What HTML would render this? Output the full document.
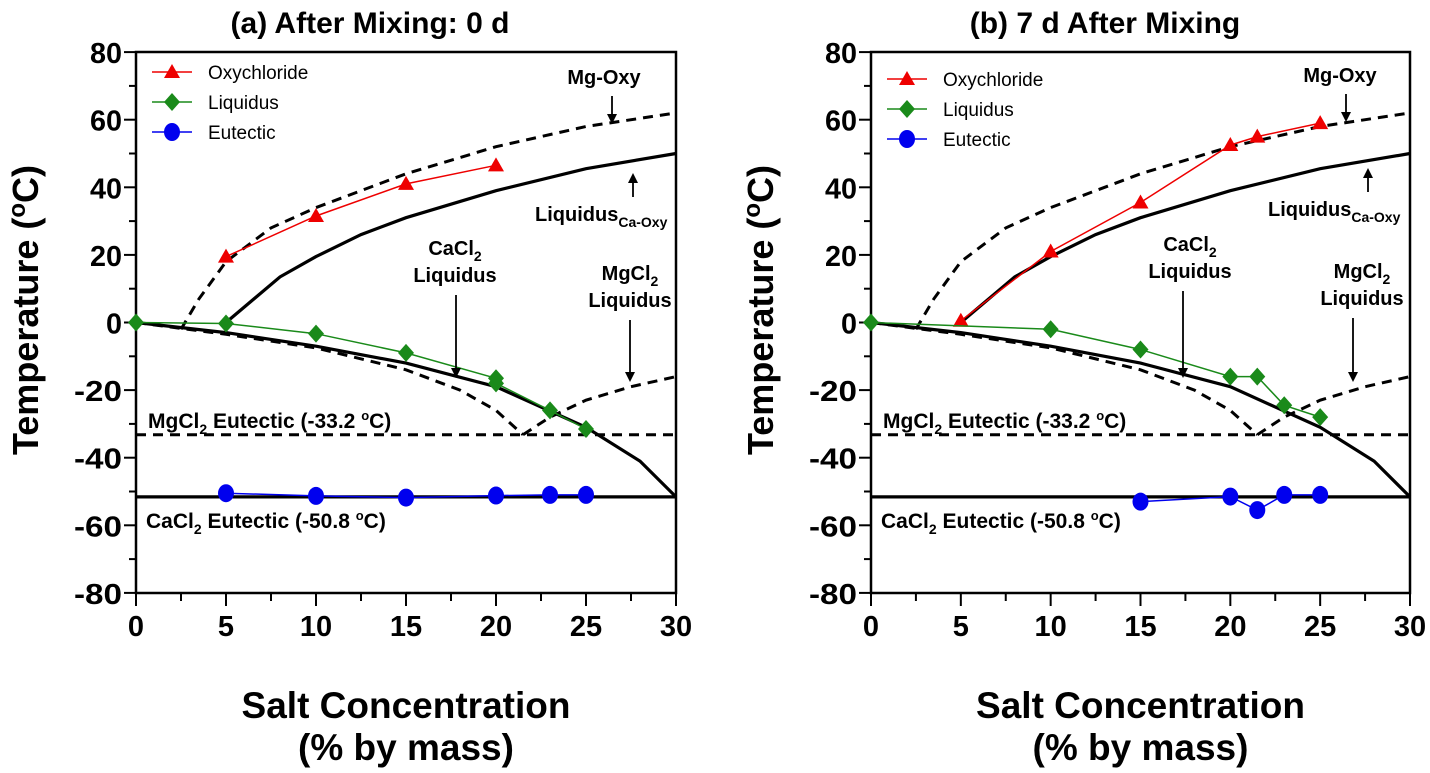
<!DOCTYPE html>
<html><head><meta charset="utf-8"><style>
body{margin:0;background:#fff;}
svg text{font-family:"Liberation Sans",Arial,sans-serif;}
</style></head><body>
<svg id="s" width="1430" height="768" xmlns="http://www.w3.org/2000/svg"></svg>
<script>
const S=document.getElementById('s');let h='';
function panel(o){
 const X=v=>o.x0+v*(o.x1-o.x0)/30, Y=v=>322.5-3.38*v;
 const pl=(pts,st)=>`<polyline fill="none" points="${pts.map(p=>X(p[0]).toFixed(1)+','+Y(p[1]).toFixed(1)).join(' ')}" ${st}/>`;
 h+=`<rect x="${o.x0}" y="52" width="${o.x1-o.x0}" height="541" fill="none" stroke="#000" stroke-width="2.5"/>`;
 for(let v=-80;v<=80;v+=10){const y=Y(v);h+=`<line x1="${o.x0-(v%20==0?12:7)}" x2="${o.x0}" y1="${y}" y2="${y}" stroke="#000" stroke-width="2"/>`;
  if(v%20==0)h+=`<text x="${o.x0-14}" y="${y+11}" font-size="29" font-weight="bold" text-anchor="end" textLength="${String(v).length*16}" lengthAdjust="spacingAndGlyphs">${v}</text>`;}
 for(let v=0;v<=30;v+=2.5){const x=X(v);h+=`<line x1="${x}" x2="${x}" y1="593" y2="${593+(v%5==0?13:8)}" stroke="#000" stroke-width="2"/>`;
  if(v%5==0)h+=`<text x="${x}" y="636" font-size="29" font-weight="bold" text-anchor="middle">${v}</text>`;}
 const xc=(o.x0+o.x1)/2;
 h+=`<text x="${o.tx}" y="33" font-size="30" font-weight="bold" text-anchor="middle">${o.title}</text>`;
 h+=`<text x="${xc}" y="718" font-size="37" font-weight="bold" text-anchor="middle">Salt Concentration</text>`;
 h+=`<text x="${xc}" y="760" font-size="37" font-weight="bold" text-anchor="middle">(% by mass)</text>`;
 h+=`<text transform="translate(${o.x0-98},310) rotate(-90)" font-size="36" font-weight="bold" text-anchor="middle">Temperature (<tspan font-size="24" dy="-13">o</tspan><tspan dy="13">C)</tspan></text>`;
 const D='stroke="#000" stroke-width="3" stroke-dasharray="10,7"', L='stroke="#000" stroke-width="3.2"';
 h+=pl([[2.5,-2],[3.5,7],[5,18],[7.5,28],[10,34],[15,44],[20,52],[25,58],[30,62]],D);
 h+=pl([[5,0],[8,13.5],[10,19.5],[12.5,26],[15,31],[20,39],[25,45.5],[30,50]],L);
 h+=pl([[0,0],[5,-3.5],[10,-7.5],[15,-14],[18,-20],[20,-26],[21.5,-33.2]],D);
 h+=pl([[21.5,-33.2],[23,-28],[25,-23],[27.5,-19],[30,-16]],D);
 h+=pl([[0,-33.2],[30,-33.2]],D);
 h+=pl([[0,0],[5,-3],[10,-7],[15,-12],[20,-19],[25,-31],[28,-41],[30,-51.6]],L);
 h+=pl([[0,-51.6],[30,-51.6]],L);
 const tri=(x,y)=>`<polygon points="${x},${y-8} ${x-8},${y+6} ${x+8},${y+6}" fill="#e00"/>`;
 const dia=(x,y)=>`<polygon points="${x},${y-9} ${x+8},${y} ${x},${y+9} ${x-8},${y}" fill="#1a8a1a"/>`;
 const cir=(x,y)=>`<ellipse cx="${x}" cy="${y}" rx="8" ry="9" fill="#0000ee"/>`;
 const ser=(d,c,m)=>{h+=pl(d,`stroke="${c}" stroke-width="1.5"`);d.forEach(p=>h+=m(X(p[0]),Y(p[1])));};
 ser(o.oxy,'#e00',tri);ser(o.liq,'#1a8a1a',dia);ser(o.eut,'#0000ee',cir);
 const lx=o.lx,ly=o.ly;
 [['Oxychloride','#e00',tri],['Liquidus','#1a8a1a',dia],['Eutectic','#0000ee',cir]].forEach((e,i)=>{const y=ly+i*30;
  h+=`<line x1="${lx}" x2="${lx+40}" y1="${y}" y2="${y}" stroke="${e[1]}" stroke-width="1.5"/>`+e[2](lx+20,y)+`<text x="${lx+56}" y="${y+7}" font-size="19">${e[0]}</text>`;});
 const a=o.an, arr=(x,y1,y2)=>{const d=y2>y1?1:-1;h+=`<line x1="${x}" x2="${x}" y1="${y1}" y2="${y2-d*8}" stroke="#000" stroke-width="1.8"/><polygon points="${x-5},${y2-d*10} ${x+5},${y2-d*10} ${x},${y2}" fill="#000"/>`;};
 const B=(x,y,t,anc)=>h+=`<text x="${x}" y="${y}" font-size="20" font-weight="bold" text-anchor="${anc||'start'}">${t}</text>`;
 B(a.mg[0],a.mg[1],'Mg-Oxy','middle');arr(a.mg[2],a.mg[1]+12,a.mg[1]+40);
 B(a.lc[0],a.lc[1],'Liquidus<tspan font-size="14" dy="6">Ca-Oxy</tspan>');arr(a.lc[2],a.lc[1]-24,a.lc[1]-48);
 B(a.cl[0],a.cl[1],'CaCl<tspan font-size="14" dy="6">2</tspan>','middle');B(a.cl[0],a.cl[1]+27,'Liquidus','middle');arr(a.cl[2],a.cl[1]+40,a.cl[3]);
 B(a.ml[0],a.ml[1],'MgCl<tspan font-size="14" dy="6">2</tspan>','middle');B(a.ml[0],a.ml[1]+27,'Liquidus','middle');arr(a.ml[2],a.ml[1]+40,a.ml[3]);
 h+=`<text x="${o.x0+12}" y="428" font-size="21" font-weight="bold">MgCl<tspan font-size="14" dy="6">2</tspan><tspan dy="-6"> Eutectic (-33.2 </tspan><tspan font-size="13" dy="-8">o</tspan><tspan dy="8">C)</tspan></text>`;
 h+=`<text x="${o.x0+10}" y="528" font-size="21" font-weight="bold">CaCl<tspan font-size="14" dy="6">2</tspan><tspan dy="-6"> Eutectic (-50.8 </tspan><tspan font-size="13" dy="-8">o</tspan><tspan dy="8">C)</tspan></text>`;
}
panel({x0:136,x1:676,tx:370,title:'(a) After Mixing: 0 d',lx:152,ly:72,
 oxy:[[5,19.5],[10,31.5],[15,41],[20,46.5]],
 liq:[[0,0],[5,-0.3],[10,-3.3],[15,-9],[20,-16.5],[20,-18],[23,-26],[25,-31.5]],
 eut:[[5,-50.5],[10,-51.3],[15,-51.8],[20,-51.2],[23,-51],[25,-51]],
 an:{mg:[604,84,612],lc:[535,221,633],cl:[455,255,456,378],ml:[630,280,630,382]}});
panel({x0:871,x1:1410,tx:1105,title:'(b) 7 d After Mixing',lx:887,ly:79,
 oxy:[[5,0.5],[10,21],[15,35.5],[20,52.5],[21.5,55],[25,59]],
 liq:[[0,0],[10,-2],[15,-8],[20,-16],[21.5,-16],[23,-24.5],[25,-28]],
 eut:[[15,-53],[20,-51.5],[21.5,-55.5],[23,-51],[25,-51]],
 an:{mg:[1340,82,1346],lc:[1268,216,1368],cl:[1190,251,1183,378],ml:[1362,278,1353,382]}});
S.innerHTML=h;
</script>
</body></html>
